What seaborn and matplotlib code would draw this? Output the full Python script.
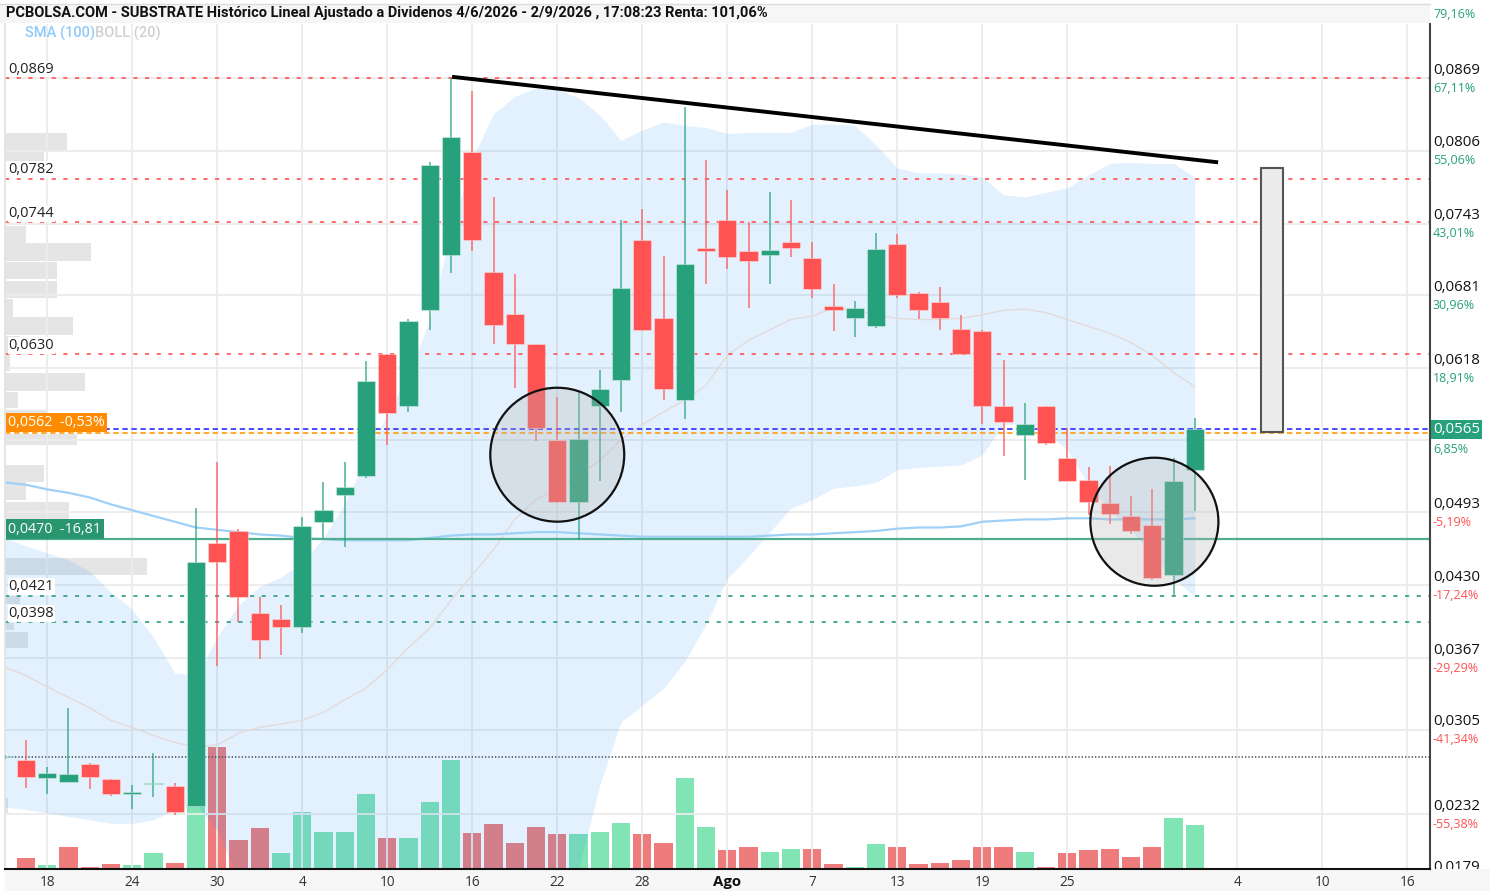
import matplotlib
matplotlib.use("Agg")
import matplotlib.pyplot as plt
import seaborn as sns
import numpy as np
import pandas as pd
from matplotlib.patches import Rectangle
from matplotlib.lines import Line2D
from matplotlib.transforms import Bbox, TransformedBbox, blended_transform_factory

# ------------------------------------------------------------------ data
day_index = list(range(-1, 56))
open_ = [0.0281, 0.0279, 0.0263, 0.0260, 0.0275, 0.0262, 0.0249, 0.0258, 0.0256, 0.0239, 0.0467,
         0.0477, 0.0406, 0.0401, 0.0394, 0.0485, 0.0508, 0.0525, 0.0630, 0.0585, 0.0668,
         0.0716, 0.0805, 0.0701, 0.0665, 0.0639, 0.0556, 0.0502, 0.0585, 0.0608, 0.0729,
         0.0661, 0.0590, 0.0722, 0.0746, 0.0719, 0.0716, 0.0727, 0.0713, 0.0672, 0.0661,
         0.0654, 0.0725, 0.0683, 0.0675, 0.0652, 0.0650, 0.0585, 0.0560, 0.0585, 0.0540,
         0.0521, 0.0501, 0.0490, 0.0482, 0.0439, 0.0530]
high = [0.0283, 0.0296, 0.0273, 0.0324, 0.0276, 0.0262, 0.0257, 0.0285, 0.0259, 0.0497, 0.0537,
        0.0479, 0.0420, 0.0413, 0.0489, 0.0519, 0.0537, 0.0624, 0.0630, 0.0660, 0.0796,
        0.0869, 0.0858, 0.0766, 0.0699, 0.0639, 0.0593, 0.0598, 0.0616, 0.0746, 0.0756,
        0.0715, 0.0844, 0.0798, 0.0772, 0.0744, 0.0770, 0.0763, 0.0727, 0.0691, 0.0676,
        0.0735, 0.0734, 0.0684, 0.0688, 0.0664, 0.0651, 0.0625, 0.0588, 0.0585, 0.0566,
        0.0532, 0.0533, 0.0507, 0.0513, 0.0540, 0.0575]
low = [0.0280, 0.0255, 0.0249, 0.0260, 0.0254, 0.0248, 0.0236, 0.0247, 0.0231, 0.0239, 0.0360,
       0.0398, 0.0366, 0.0370, 0.0389, 0.0471, 0.0463, 0.0523, 0.0551, 0.0580, 0.0651,
       0.0700, 0.0719, 0.0639, 0.0601, 0.0555, 0.0501, 0.0469, 0.0520, 0.0580, 0.0650,
       0.0590, 0.0574, 0.0691, 0.0704, 0.0670, 0.0691, 0.0714, 0.0679, 0.0650, 0.0645,
       0.0653, 0.0679, 0.0660, 0.0651, 0.0630, 0.0570, 0.0542, 0.0521, 0.0551, 0.0520,
       0.0491, 0.0483, 0.0474, 0.0435, 0.0421, 0.0494]
close = [0.0282, 0.0264, 0.0268, 0.0267, 0.0264, 0.0249, 0.0251, 0.0259, 0.0234, 0.0450, 0.0450,
         0.0420, 0.0383, 0.0394, 0.0481, 0.0495, 0.0515, 0.0607, 0.0579, 0.0659, 0.0794,
         0.0818, 0.0729, 0.0655, 0.0639, 0.0566, 0.0502, 0.0557, 0.0600, 0.0687, 0.0651,
         0.0600, 0.0708, 0.0719, 0.0714, 0.0711, 0.0720, 0.0722, 0.0686, 0.0668, 0.0670,
         0.0721, 0.0681, 0.0668, 0.0661, 0.0630, 0.0585, 0.0571, 0.0570, 0.0553, 0.0520,
         0.0502, 0.0492, 0.0477, 0.0436, 0.0520, 0.0565]
volume = [0, 11.3, 3.7, 22.3, 2.3, 5.0, 3.7, 15.7, 6.3, 63.0, 121.7,
          29.0, 41.3, 15.7, 57.3, 37.3, 37.3, 75.0, 31.3, 31.3, 67.3,
          109.0, 36.3, 45.0, 26.3, 42.3, 35.0, 35.0, 37.3, 46.3, 35.0,
          26.3, 91.3, 42.3, 19.0, 22.3, 17.3, 20.0, 20.0, 5.0, 2.3,
          25.0, 22.3, 5.0, 6.3, 9.0, 22.3, 22.3, 17.3, 2.3, 16.3,
          19.0, 20.0, 12.3, 22.3, 51.3, 44.0]
volume_up = [1, 0, 1, 0, 0, 0, 1, 1, 0, 1, 0,
             0, 0, 1, 1, 1, 1, 1, 0, 1, 1,
             1, 0, 0, 0, 0, 0, 1, 1, 1, 0,
             0, 1, 1, 0, 0, 1, 1, 0, 0, 1,
             1, 0, 0, 0, 0, 0, 0, 1, 0, 0,
             0, 0, 0, 0, 1, 1]
boll_upper = [0.0471, 0.0464, 0.0458, 0.0452, 0.0442, 0.0424, 0.0409, 0.0385, 0.0354, 0.0352, 0.0385,
              0.0413, 0.0429, 0.0437, 0.0450, 0.0471, 0.0501, 0.0540, 0.0579, 0.0612, 0.0660,
              0.0737, 0.0799, 0.0838, 0.0853, 0.0860, 0.0859, 0.0852, 0.0837, 0.0815, 0.0824,
              0.0831, 0.0828, 0.0826, 0.0821, 0.0822, 0.0822, 0.0822, 0.0829, 0.0829, 0.0828,
              0.0811, 0.0791, 0.0787, 0.0787, 0.0786, 0.0783, 0.0768, 0.0766, 0.0770, 0.0774,
              0.0785, 0.0795, 0.0796, 0.0795, 0.0795, 0.0783]
boll_mid = [0.0359, 0.0352, 0.0342, 0.0333, 0.0324, 0.0313, 0.0307, 0.0300, 0.0294, 0.0290, 0.0292,
            0.0302, 0.0307, 0.0310, 0.0313, 0.0320, 0.0331, 0.0341, 0.0357, 0.0376, 0.0393,
            0.0417, 0.0439, 0.0461, 0.0487, 0.0504, 0.0514, 0.0525, 0.0538, 0.0556, 0.0569,
            0.0580, 0.0590, 0.0603, 0.0629, 0.0642, 0.0651, 0.0660, 0.0663, 0.0670, 0.0668,
            0.0664, 0.0661, 0.0660, 0.0660, 0.0661, 0.0664, 0.0668, 0.0669, 0.0666, 0.0660,
            0.0654, 0.0648, 0.0640, 0.0629, 0.0614, 0.0602]
boll_lower = [0.0238, 0.0236, 0.0233, 0.0230, 0.0227, 0.0224, 0.0224, 0.0227, 0.0236, 0.0240, 0.0218,
              0.0175, 0.0158, 0.0145, 0.0136, 0.0132, 0.0127, 0.0127, 0.0132, 0.0136, 0.0140,
              0.0140, 0.0145, 0.0149, 0.0153, 0.0158, 0.0166, 0.0184, 0.0257, 0.0312, 0.0326,
              0.0341, 0.0364, 0.0396, 0.0436, 0.0455, 0.0476, 0.0497, 0.0504, 0.0514, 0.0516,
              0.0519, 0.0530, 0.0532, 0.0533, 0.0534, 0.0543, 0.0569, 0.0570, 0.0563, 0.0547,
              0.0517, 0.0495, 0.0478, 0.0456, 0.0436, 0.0420]
sma100 = [0.0519, 0.0517, 0.0513, 0.0510, 0.0506, 0.0500, 0.0495, 0.0490, 0.0485, 0.0480, 0.0478,
          0.0476, 0.0474, 0.0473, 0.0471, 0.0470, 0.0469, 0.0469, 0.0469, 0.0469, 0.0471,
          0.0473, 0.0474, 0.0474, 0.0475, 0.0476, 0.0476, 0.0475, 0.0474, 0.0473, 0.0472,
          0.0472, 0.0472, 0.0472, 0.0472, 0.0472, 0.0473, 0.0474, 0.0474, 0.0475, 0.0476,
          0.0477, 0.0479, 0.0480, 0.0480, 0.0481, 0.0485, 0.0486, 0.0487, 0.0487, 0.0488,
          0.0488, 0.0487, 0.0487, 0.0487, 0.0487, 0.0488]

tick_pos = [1, 5, 9, 13, 17, 21, 25, 29, 33, 37, 41, 45, 49, 57, 61, 65]
tick_labels = ['18', '24', '30', '4', '10', '16', '22', '28', 'Ago', '7', '13', '19', '25', '4', '10', '16']

right_prices = [0.0869, 0.0806, 0.0743, 0.0681, 0.0618, 0.0493, 0.0430, 0.0367, 0.0305, 0.0232, 0.0179]
right_pcts = ['67,11%', '55,06%', '43,01%', '30,96%', '18,91%', '-5,19%', '-17,24%', '-29,29%',
              '-41,34%', '-55,38%', '']
extra_grid = [0.0556]

red_levels = [0.0869, 0.0782, 0.0744, 0.0630]
green_levels = [0.0421, 0.0398]
last_close = 0.0565
last_pct = '6,85%'
ref_price = 0.0562
ref_label = '0,0562  -0,53%'
support = 0.0470
support_label = '0,0470  -16,81'
dotted_level = 0.0281
top_pct = '79,16%'

trend_x = [20.05, 56.1]
trend_y = [0.0870, 0.0796]
circle_x = [25.0, 53.1]
circle_y = [0.0543, 0.0485]
box_x0, box_x1 = 58.1, 59.15
box_y0, box_y1 = 0.05627, 0.0791

profile_low = [0.0806, 0.0797, 0.0726, 0.0711, 0.0695, 0.0679, 0.0662, 0.0647, 0.0630, 0.0615, 0.0598,
               0.0583, 0.0567, 0.0551, 0.0519, 0.0504, 0.0487, 0.0439, 0.0414, 0.0391, 0.0376, 0.0233]
profile_high = [0.0821, 0.0805, 0.0741, 0.0726, 0.0710, 0.0693, 0.0678, 0.0662, 0.0646, 0.0630, 0.0614,
                0.0597, 0.0582, 0.0561, 0.0534, 0.0519, 0.0502, 0.0454, 0.0421, 0.0397, 0.0390, 0.0246]
profile_len = [62, 39, 21, 86, 52, 52, 8, 68, 15, 5, 80, 13, 42, 72, 39, 21, 64, 142, 15, 9, 23, 3]

title = ('PCBOLSA.COM - SUBSTRATE Histórico Lineal Ajustado a Dividenos 4/6/2026 - 2/9/2026 , '
         '17:08:23 Renta: 101,06%')

# ------------------------------------------------------------------ style
sns.set_theme(style='white')
plt.rcParams['font.family'] = ['Roboto', 'DejaVu Sans']
OPEN = ['Open Sans', 'DejaVu Sans']

GREEN = '#26a17b'
RED = '#ff5252'
W, H = 1496, 896

fig = plt.figure(figsize=(W / 100, H / 100), dpi=100)
fig.patch.set_facecolor('white')
rect = [5 / W, 1 - 869 / H, 1425 / W, 845 / H]
XLIM = (-0.988, 66.07)
YLIM = (0.01845, 0.09157)

axv = fig.add_axes(rect)   # volume
axp = fig.add_axes(rect)   # volume profile
ax = fig.add_axes(rect)    # price
for a in (axv, axp):
    a.set_axis_off()
ax.patch.set_visible(False)

# title bar and x strip
fig.patches.append(Rectangle((0, 1 - 23 / H), 1430 / W, 19 / H, transform=fig.transFigure,
                             fc='#f6f6f6', ec='none', zorder=-2))
fig.lines.append(Line2D([0, 1430 / W], [1 - 4 / H, 1 - 4 / H], transform=fig.transFigure,
                        color='#dcdcdc', lw=1))
fig.patches.append(Rectangle((5 / W, 1 - 891 / H), 1485 / W, 22 / H, transform=fig.transFigure,
                             fc='#f7f7f7', ec='none', zorder=-2))
fig.text(6 / W, 1 - 13.5 / H, title, fontsize=10.5, fontweight='bold', va='center', ha='left',
         color='#111111')
fig.text(25 / W, 1 - 33 / H, 'SMA (100)', fontsize=10.5, fontweight='medium', color='#90caf9',
         va='center')
fig.text(95 / W, 1 - 33 / H, 'BOLL (20)', fontsize=10.5, fontweight='medium', color='#d0d0d0',
         va='center')
fig.text(1433 / W, 1 - 14 / H, top_pct, fontsize=9, color=GREEN, va='center', family=OPEN)

# volume bars
vcol = [(0.24, 0.84, 0.55, 0.65) if u else (0.91, 0.27, 0.27, 0.70) for u in volume_up]
axv.bar(day_index, volume, width=0.86, color=vcol, edgecolor='none')

# volume profile
axp.barh([(l + h) / 2 for l, h in zip(profile_low, profile_high)], profile_len,
         height=[h - l for l, h in zip(profile_low, profile_high)], left=0, align='center',
         color='#e3e3e3', alpha=0.9, edgecolor='none')

# grid / ticks
grid_prices = sorted(right_prices + extra_grid)
ax.set_yticks(grid_prices)
ax.set_xticks(tick_pos, tick_labels)
ax.grid(True, color='#ececec', lw=1.3)
ax.set_axisbelow(True)
ax.tick_params(axis='y', left=False, right=False, labelleft=False, labelright=False)
ax.tick_params(axis='x', length=0, pad=4, labelsize=9.8, labelcolor='#333333')
for t in ax.get_xticklabels():
    t.set_family(OPEN)
    if t.get_text() == 'Ago':
        t.set_fontweight('bold')
        t.set_color('#111111')
        t.set_fontsize(10.8)
ax.spines['top'].set_visible(False)
ax.spines['left'].set_color('#e2e2e2')
ax.spines['right'].set_color('#444444')
ax.spines['right'].set_linewidth(1.5)
ax.spines['bottom'].set_color('#111111')
ax.spines['bottom'].set_linewidth(1.5)

# bollinger + sma
ax.fill_between(day_index, boll_lower, boll_upper, color='#2196f3', alpha=0.13, lw=0, zorder=1)
sns.lineplot(x=day_index, y=boll_mid, ax=ax, color='#e4dada', lw=1.0, zorder=1.5, legend=False)
sns.lineplot(x=day_index, y=sma100, ax=ax, color='#9fd0f7', lw=1.6, zorder=1.6, legend=False)

# level lines
for lv in red_levels:
    ax.axhline(lv, color=RED, lw=1.2, dashes=(2.5, 4.5), zorder=2)
for lv in green_levels:
    ax.axhline(lv, color='#2e9e78', lw=1.2, dashes=(2.5, 4.5), zorder=2)
ax.axhline(dotted_level, color='#555555', lw=1.2, dashes=(0.8, 1.2), zorder=2)
ax.axhline(support, color='#4daf8f', lw=1.6, zorder=2)
ax.axhline(last_close, color='#3d3dff', lw=1.3, dashes=(3, 2), zorder=2)
ax.axhline(ref_price, color='#ffa31a', lw=1.3, dashes=(3, 2), zorder=2)

# candles
ccol = [GREEN if c >= o else RED for o, c in zip(open_, close)]
body_lo = [min(o, c) for o, c in zip(open_, close)]
body_h = [max(abs(c - o), 0.00012) for o, c in zip(open_, close)]
ax.vlines(day_index, low, high, colors=ccol, lw=1.3, alpha=0.7, zorder=2.9)
ax.bar(day_index, body_h, bottom=body_lo, width=0.86, color=ccol,
       edgecolor=(1, 1, 1, 0.35), lw=0.8, zorder=3)

# annotations: circles, trend line, box
circ = pd.DataFrame({'x': circle_x, 'y': circle_y, 's': [9300, 8500]})
ax.scatter(circ['x'], circ['y'], s=circ['s'], facecolor=(0.72, 0.72, 0.72, 0.3),
           edgecolor='#111111', lw=1.6, zorder=4)
ax.plot(trend_x, trend_y, color='black', lw=2.8, solid_capstyle='butt', zorder=5)
ax.add_patch(Rectangle((box_x0, box_y0), box_x1 - box_x0, box_y1 - box_y0, fc='#ececec',
                       ec='#555555', lw=1.5, zorder=4))

# fix view limits after everything (set_yticks may expand them)
axv.set_xlim(*XLIM)
axv.set_ylim(0, 845)
axp.set_xlim(0, 1425)
axp.set_ylim(*YLIM)
ax.set_xlim(*XLIM)
ax.set_ylim(*YLIM)

# left labels
lt = blended_transform_factory(ax.transAxes, ax.transData)
fmt = lambda p: f'{p:.4f}'.replace('.', ',')
for lv in red_levels + green_levels:
    ax.annotate(fmt(lv), xy=(0, lv), xycoords=lt, xytext=(2.5, 1.0), textcoords='offset points',
                ha='left', va='bottom', fontsize=10.5, color='#222222', family=OPEN, zorder=6,
                bbox=dict(boxstyle='square,pad=0.06', fc='white', ec='none'))
ax.annotate(ref_label, xy=(0, ref_price), xycoords=lt, xytext=(2.5, 1.8), textcoords='offset points',
            ha='left', va='bottom', fontsize=10.3, color='white', family=OPEN,
            zorder=6, bbox=dict(boxstyle='square,pad=0.15', fc='#ff8c00', ec='none'))
ax.annotate(support_label, xy=(0, support), xycoords=lt, xytext=(2.5, 1.8), textcoords='offset points',
            ha='left', va='bottom', fontsize=10.3, color='white', family=OPEN,
            zorder=6, bbox=dict(boxstyle='square,pad=0.15', fc='#2a9670', ec='none'))

# right labels
clip = TransformedBbox(Bbox.from_extents(0, 1 - 869 / H, 1, 1), fig.transFigure)
for p, pc in zip(right_prices, right_pcts):
    t = ax.annotate(fmt(p), xy=(1, p), xycoords=lt, xytext=(2.0, 0.3), textcoords='offset points',
                    ha='left', va='bottom', fontsize=10.8, color='#111111', family=OPEN,
                    annotation_clip=False)
    t.set_clip_box(clip)
    t.set_clip_on(True)
    if pc:
        ax.annotate(pc, xy=(1, p), xycoords=lt, xytext=(2.0, -2.6), textcoords='offset points',
                    ha='left', va='top', fontsize=9,
                    color=GREEN if not pc.startswith('-') else RED, family=OPEN,
                    annotation_clip=False)
ax.annotate(fmt(last_close), xy=(1, last_close), xycoords=lt, xytext=(2.0, 0), textcoords='offset points',
            ha='left', va='center', fontsize=10.8, color='white', family=OPEN,
            annotation_clip=False, zorder=7,
            bbox=dict(boxstyle='square,pad=0.15', fc=GREEN, ec='none'))
ax.annotate(last_pct, xy=(1, last_close), xycoords=lt, xytext=(2.0, -10), textcoords='offset points',
            ha='left', va='top', fontsize=9, color=GREEN, family=OPEN, annotation_clip=False)

fig.savefig('out.png', dpi=100)
